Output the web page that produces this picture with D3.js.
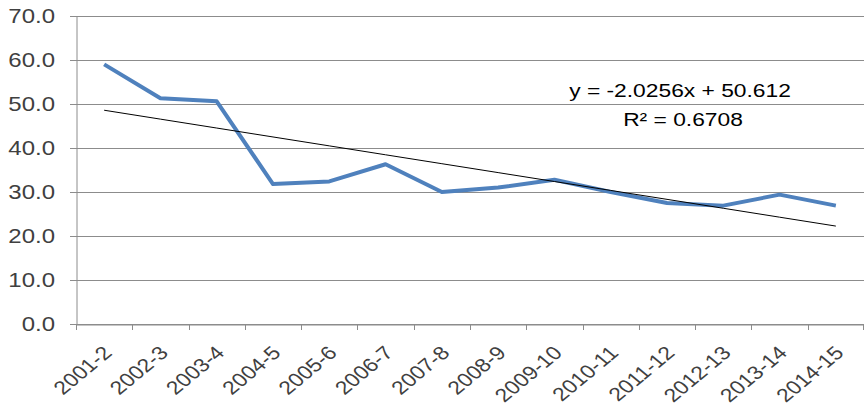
<!DOCTYPE html>
<html><head><meta charset="utf-8">
<script src="https://cdn.jsdelivr.net/npm/d3@7"></script>
<style>body{margin:0;background:#fff}svg{display:block}text{font-family:"Liberation Sans",Arial,sans-serif}</style>
</head><body>
<svg id="c" width="864" height="418"></svg>
<script>
const categories = ["2001-2","2002-3","2003-4","2004-5","2005-6","2006-7","2007-8","2008-9","2009-10","2010-11","2011-12","2012-13","2013-14","2014-15"];
const values = [59.0,51.3,50.6,31.8,32.4,36.3,30.0,31.0,32.8,30.0,27.5,26.9,29.4,26.9];
const yTicks = [0,10,20,30,40,50,60,70];
const trendSlope = -2.0256;
const trendIntercept = 50.612;
const trendLabels = ["y = -2.0256x + 50.612", "R\u00b2 = 0.6708"];

(function(){
const svg = d3.select("#c");
const mLeft = 76, mRight = 864, mTop = 16, mBottom = 324;
const sx = 1.2; // horizontal stretch of text, as in the reference
const x = d3.scaleBand().domain(categories).range([mLeft, mRight]).padding(0);
const y = d3.scaleLinear().domain([0,70]).range([mBottom, mTop]);

svg.append("g").selectAll("line").data(yTicks).join("line")
  .attr("x1", mLeft-6).attr("x2", mRight).attr("y1", d=>Math.round(y(d))+0.5).attr("y2", d=>Math.round(y(d))+0.5)
  .attr("stroke", "#8c8c8c").attr("stroke-width", 1);

const ya = svg.append("g").attr("transform",`translate(${mLeft+0.5},0)`)
  .call(d3.axisLeft(y).tickValues(yTicks).tickSize(0).tickFormat(""));
ya.select(".domain").attr("stroke","#8c8c8c");

const fmt = d3.format(".1f");
svg.append("g").selectAll("text").data(yTicks).join("text")
  .attr("transform", d=>`translate(${mLeft-21},${y(d)+7}) scale(${sx},1)`)
  .attr("text-anchor","end").attr("font-size",20).attr("fill","#404040")
  .text(d=>fmt(d));

const xa = svg.append("g").attr("transform",`translate(0,${mBottom+0.5})`)
  .call(d3.axisBottom(x).tickSize(0).tickFormat(""));
xa.select(".domain").attr("stroke","#8c8c8c");
const tickPos = categories.map(c=>x(c)).concat([mRight-1]);
svg.append("g").selectAll("line").data(tickPos).join("line")
  .attr("x1",d=>Math.round(d)+0.5).attr("x2",d=>Math.round(d)+0.5).attr("y1",mBottom).attr("y2",mBottom+6)
  .attr("stroke","#8c8c8c");
svg.append("g").selectAll("text").data(categories).join("text")
  .attr("transform", d=>`translate(${x(d)+x.bandwidth()/2+9},${mBottom+30}) scale(${sx},1) rotate(-45)`)
  .attr("text-anchor","end").attr("font-size",19).attr("fill","#404040")
  .text(d=>d);

const cx = d => x(d)+x.bandwidth()/2;
svg.append("path").datum(values)
  .attr("d", d3.line().x((d,i)=>cx(categories[i])).y(d=>y(d)))
  .attr("fill","none").attr("stroke","#4f81bd").attr("stroke-width",4).attr("stroke-linejoin","round");

const trend = categories.map((c,i)=>trendSlope*(i+1)+trendIntercept);
svg.append("path").datum(trend)
  .attr("d", d3.line().x((d,i)=>cx(categories[i])).y(d=>y(d)))
  .attr("fill","none").attr("stroke","#000").attr("stroke-width",1);

svg.append("text").attr("transform",`translate(680,97) scale(${sx},1)`).attr("text-anchor","middle").attr("font-size",19).attr("fill","#000").text(trendLabels[0]);
svg.append("text").attr("transform",`translate(683,126) scale(${sx},1)`).attr("text-anchor","middle").attr("font-size",19).attr("fill","#000").text(trendLabels[1]);
})();
</script>
</body></html>
